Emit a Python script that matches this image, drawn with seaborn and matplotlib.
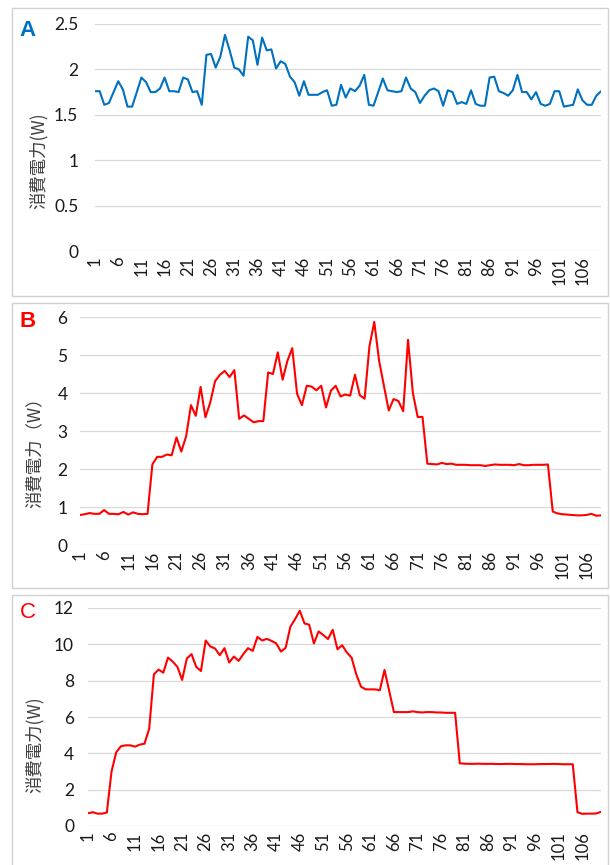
import numpy as np
import pandas as pd
import matplotlib
matplotlib.use("Agg")
import matplotlib.pyplot as plt
import seaborn as sns
from matplotlib.patches import Rectangle

# power readings (W) per sample
power_a = [
    1.76, 1.76, 1.61, 1.63, 1.75, 1.87, 1.78, 1.59, 1.59, 1.75,
    1.91, 1.86, 1.75, 1.75, 1.79, 1.91, 1.76, 1.76, 1.75, 1.91,
    1.89, 1.75, 1.76, 1.61, 2.16, 2.17, 2.02, 2.14, 2.38, 2.21,
    2.02, 2.00, 1.93, 2.36, 2.32, 2.05, 2.35, 2.21, 2.22, 2.01,
    2.09, 2.06, 1.92, 1.86, 1.71, 1.87, 1.72, 1.72, 1.72, 1.75,
    1.77, 1.60, 1.61, 1.83, 1.69, 1.79, 1.76, 1.82, 1.94, 1.61,
    1.60, 1.75, 1.90, 1.77, 1.76, 1.75, 1.76, 1.91, 1.79, 1.75,
    1.63, 1.71, 1.77, 1.79, 1.76, 1.60, 1.77, 1.75, 1.62, 1.64,
    1.62, 1.77, 1.62, 1.60, 1.60, 1.91, 1.92, 1.76, 1.74, 1.71,
    1.77, 1.94, 1.75, 1.75, 1.67, 1.75, 1.62, 1.60, 1.62, 1.76,
    1.76, 1.59, 1.60, 1.61, 1.78, 1.66, 1.61, 1.61, 1.71, 1.76,
]
power_b = [
    0.79, 0.81, 0.84, 0.82, 0.82, 0.92, 0.82, 0.82, 0.81, 0.87,
    0.80, 0.86, 0.82, 0.81, 0.82, 2.12, 2.32, 2.32, 2.38, 2.36,
    2.83, 2.46, 2.86, 3.68, 3.40, 4.16, 3.36, 3.75, 4.31, 4.48,
    4.58, 4.42, 4.60, 3.32, 3.41, 3.32, 3.23, 3.26, 3.26, 4.54,
    4.50, 5.07, 4.35, 4.85, 5.18, 3.98, 3.68, 4.19, 4.17, 4.07,
    4.19, 3.62, 4.06, 4.19, 3.91, 3.96, 3.93, 4.48, 3.94, 3.85,
    5.23, 5.87, 4.85, 4.19, 3.54, 3.84, 3.79, 3.52, 5.40, 4.00,
    3.37, 3.37, 2.14, 2.13, 2.12, 2.16, 2.13, 2.14, 2.11, 2.11,
    2.11, 2.10, 2.10, 2.10, 2.08, 2.10, 2.12, 2.11, 2.11, 2.11,
    2.10, 2.13, 2.10, 2.10, 2.11, 2.11, 2.11, 2.12, 0.88, 0.83,
    0.81, 0.80, 0.79, 0.78, 0.78, 0.79, 0.82, 0.77, 0.78,
]
power_c = [
    0.70, 0.76, 0.68, 0.68, 0.74, 3.00, 4.06, 4.39, 4.44, 4.44,
    4.37, 4.48, 4.53, 5.35, 8.35, 8.61, 8.44, 9.27, 9.05, 8.76,
    8.04, 9.22, 9.46, 8.76, 8.53, 10.21, 9.88, 9.77, 9.40, 9.79,
    9.00, 9.33, 9.09, 9.46, 9.79, 9.64, 10.41, 10.21, 10.30, 10.19,
    10.05, 9.60, 9.81, 10.97, 11.39, 11.85, 11.15, 11.08, 10.05, 10.71,
    10.51, 10.29, 10.80, 9.73, 9.95, 9.55, 9.27, 8.35, 7.67, 7.52,
    7.52, 7.52, 7.47, 8.59, 7.43, 6.27, 6.27, 6.27, 6.27, 6.31,
    6.27, 6.25, 6.27, 6.27, 6.25, 6.25, 6.23, 6.23, 6.23, 3.45,
    3.43, 3.42, 3.42, 3.43, 3.42, 3.42, 3.42, 3.41, 3.41, 3.42,
    3.42, 3.41, 3.41, 3.40, 3.40, 3.40, 3.41, 3.41, 3.41, 3.42,
    3.41, 3.40, 3.40, 3.40, 0.76, 0.67, 0.68, 0.68, 0.69, 0.78,
]

x_ticks = list(range(1, 107, 5))
yticks_a = [0, 0.5, 1, 1.5, 2, 2.5]
yticks_b = [0, 1, 2, 3, 4, 5, 6]
yticks_c = [0, 2, 4, 6, 8, 10, 12]

W, H = 610, 865
BLUE = "#0070C0"
RED = "#FF0000"
GRID = "#D9D9D9"
TEXT = "#1A1A1A"

sns.set_style("white")
plt.rcParams["font.family"] = ["Lato", "Noto Sans CJK JP", "DejaVu Sans"]

fig = plt.figure(figsize=(W / 100, H / 100), dpi=100)


def px_axes(left, top, right, bottom):
    return fig.add_axes([left / W, 1 - bottom / H, (right - left) / W, (bottom - top) / H])


def panel_box(top, bottom):
    fig.add_artist(Rectangle((12 / W, 1 - bottom / H), (608 - 12) / W, (bottom - top) / H,
                             transform=fig.transFigure, fill=False,
                             edgecolor="#D0D0D0", lw=1.0))


def draw_panel(ax, values, color, yticks, ylabels, ypad):
    df = pd.DataFrame({"t": np.arange(1, len(values) + 1), "w": values})
    sns.lineplot(data=df, x="t", y="w", ax=ax, color=color, lw=1.5)
    ax.set_xlim(1, len(values))
    ax.set_ylim(yticks[0], yticks[-1])
    ax.set_yticks(yticks)
    ax.set_yticklabels(ylabels)
    ax.set_xticks(x_ticks)
    ax.set_xticklabels([str(t) for t in x_ticks], rotation=90)
    ax.yaxis.grid(True, color=GRID, lw=0.9)
    ax.set_axisbelow(True)
    for s in ax.spines.values():
        s.set_visible(False)
    ax.tick_params(axis="y", length=0, pad=ypad, labelsize=12.5, colors=TEXT)
    ax.tick_params(axis="x", length=0, pad=4, labelsize=12, colors=TEXT)
    ax.set_xlabel("")
    ax.set_ylabel("")


panel_box(8, 296)
panel_box(303, 588)
panel_box(595, 870)

ax_a = px_axes(95, 24, 601, 251)
draw_panel(ax_a, power_a, BLUE, yticks_a, ["0", "0.5", "1", "1.5", "2", "2.5"], 12)

ax_b = px_axes(80, 317, 601, 545)
draw_panel(ax_b, power_b, RED, yticks_b, [str(v) for v in yticks_b], 9)

ax_c = px_axes(88, 608, 601, 826)
draw_panel(ax_c, power_c, RED, yticks_c, [str(v) for v in yticks_c], 10)

# panel letters
fig.text(28 / W, 1 - 30 / H, "A", color=BLUE, fontsize=16, fontweight="bold",
         ha="center", va="center", family=["Liberation Sans"])
fig.text(28 / W, 1 - 322 / H, "B", color=RED, fontsize=16, fontweight="bold",
         ha="center", va="center", family=["Liberation Sans"])
fig.text(28 / W, 1 - 613 / H, "C", color=RED, fontsize=16,
         ha="center", va="center", family=["Liberation Sans"])

# y axis titles
cjk = ["Noto Sans CJK JP", "DejaVu Sans"]
fig.text(39 / W, 1 - 161 / H, "消費電力(W)", rotation=90, fontsize=12.5, color="#404040",
         ha="center", va="center", family=cjk)
fig.text(35 / W, 1 - 448 / H, "消費電力（W）", rotation=90, fontsize=12.5, color="#404040",
         ha="center", va="center", family=cjk)
fig.text(35 / W, 1 - 745 / H, "消費電力(W)", rotation=90, fontsize=12.5, color="#404040",
         ha="center", va="center", family=cjk)

fig.savefig("out.png", dpi=100)
